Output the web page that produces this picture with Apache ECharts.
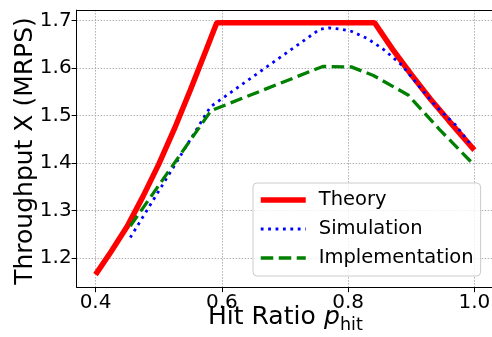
<!DOCTYPE html>
<html>
<head>
<meta charset="utf-8">
<script src="https://cdn.jsdelivr.net/npm/echarts@6/dist/echarts.min.js"></script>
<style>
html, body { margin: 0; padding: 0; background: #fff; }
#main { width: 492px; height: 337px; }
</style>
</head>
<body>
<div id="main"></div>
<script>
// 数据
var theoryX = [0.40, 0.425, 0.45, 0.475, 0.50, 0.525, 0.55, 0.575, 0.592, 0.842, 0.87, 0.90, 0.93, 0.96, 1.00];
var theoryY = [1.165, 1.214, 1.266, 1.329, 1.397, 1.472, 1.553, 1.637, 1.695, 1.695, 1.640, 1.586, 1.535, 1.488, 1.427];

var simX = [0.455, 0.582, 0.755, 0.77, 0.79, 0.805, 0.83, 0.855, 0.885, 0.91, 0.94, 0.97, 0.995];
var simY = [1.243, 1.518, 1.681, 1.684, 1.681, 1.677, 1.662, 1.640, 1.606, 1.565, 1.518, 1.480, 1.437];

var implX = [0.455, 0.583, 0.760, 0.805, 0.840, 0.895, 0.945, 0.995];
var implY = [1.267, 1.510, 1.603, 1.602, 1.584, 1.543, 1.470, 1.402];

var xTicks = [0.4, 0.6, 0.8, 1.0];
var yTicks = [1.2, 1.3, 1.4, 1.5, 1.6, 1.7];

function pairs(xs, ys) {
    var out = [];
    for (var i = 0; i < xs.length; i++) out.push([xs[i], ys[i]]);
    return out;
}

var chart = echarts.init(document.getElementById('main'));
var font = 'DejaVu Sans';
var gridStyle = { color: '#b0b0b0', width: 1, type: [1.5, 1.5] };

// 右边框在画布外（与原图一致）
var option = {
    animation: false,
    backgroundColor: '#fff',
    grid: {
        left: 76.6,
        top: 10.1,
        width: 416.7,
        height: 277.1,
        outerBoundsMode: 'none'
    },
    // 坐标轴标题用 graphic 文本放置
    graphic: [
        {
            type: 'text',
            x: 208,
            y: 317,
            style: {
                text: 'Hit Ratio ',
                font: '25px "DejaVu Sans"',
                fill: '#000',
                align: 'left',
                verticalAlign: 'middle'
            }
        },
        {
            type: 'text',
            x: 324,
            y: 317,
            style: {
                text: 'p',
                font: 'italic 25px "DejaVu Sans"',
                fill: '#000',
                align: 'left',
                verticalAlign: 'middle'
            }
        },
        {
            type: 'text',
            x: 340,
            y: 325,
            style: {
                text: 'hit',
                font: '17.5px "DejaVu Sans"',
                fill: '#000',
                align: 'left',
                verticalAlign: 'middle'
            }
        },
        {
            type: 'text',
            x: 25,
            y: 151,
            rotation: Math.PI / 2,
            style: {
                text: 'Throughput X (MRPS)',
                font: '25px "DejaVu Sans"',
                fill: '#000',
                align: 'center',
                verticalAlign: 'middle'
            }
        }
    ],
    legend: {
        data: ['Theory', 'Simulation', 'Implementation'],
        orient: 'vertical',
        left: 253,
        top: 183,
        itemWidth: 45,
        itemHeight: 14,
        itemGap: 9,
        padding: [7, 7, 8, 5],
        backgroundColor: 'rgba(255,255,255,0.8)',
        borderColor: '#cccccc',
        borderWidth: 1,
        borderRadius: 4,
        itemStyle: { opacity: 0 },
        lineStyle: { width: 'inherit' },
        textStyle: {
            fontFamily: font,
            fontSize: 19.5,
            color: '#000',
            lineHeight: 20,
            padding: [0, 0, 0, 8]
        }
    },
    xAxis: [{
        type: 'value',
        min: 0.37,
        max: 1.03,
        axisLine: { show: true, lineStyle: { color: '#000', width: 1 } },
        axisTick: { show: true, length: 5, customValues: xTicks, lineStyle: { color: '#000' } },
        axisLabel: {
            customValues: xTicks,
            margin: 6,
            fontFamily: font,
            fontSize: 20,
            color: '#000',
            formatter: function (v) { return v.toFixed(1); }
        },
        splitLine: { show: true, lineStyle: gridStyle }
    }, {
        // 上边框
        type: 'value',
        position: 'top',
        min: 0.37,
        max: 1.03,
        axisLine: { show: true, onZero: false, lineStyle: { color: '#000', width: 1 } },
        axisTick: { show: false },
        axisLabel: { show: false },
        splitLine: { show: false }
    }],
    yAxis: {
        type: 'value',
        min: 1.1385,
        max: 1.7215,
        axisLine: { show: true, lineStyle: { color: '#000', width: 1 } },
        axisTick: { show: true, length: 5, customValues: yTicks, lineStyle: { color: '#000' } },
        axisLabel: {
            customValues: yTicks,
            margin: 5,
            fontFamily: font,
            fontSize: 20,
            color: '#000',
            formatter: function (v) { return v.toFixed(1); }
        },
        splitLine: { show: true, lineStyle: gridStyle }
    },
    series: [
        {
            name: 'Theory',
            type: 'line',
            data: pairs(theoryX, theoryY),
            symbol: 'none',
            color: '#ff0000',
            lineStyle: { color: '#ff0000', width: 5.5 }
        },
        {
            name: 'Simulation',
            type: 'line',
            data: pairs(simX, simY),
            symbol: 'none',
            color: '#0000ff',
            lineStyle: { color: '#0000ff', width: 2.8, type: [2.8, 4.6] }
        },
        {
            name: 'Implementation',
            type: 'line',
            data: pairs(implX, implY),
            symbol: 'none',
            color: '#008000',
            lineStyle: { color: '#008000', width: 3.3, type: [12.5, 5.5] }
        }
    ]
};

chart.setOption(option);

window.onresize = function () {
    chart.resize();
};
</script>
</body>
</html>
